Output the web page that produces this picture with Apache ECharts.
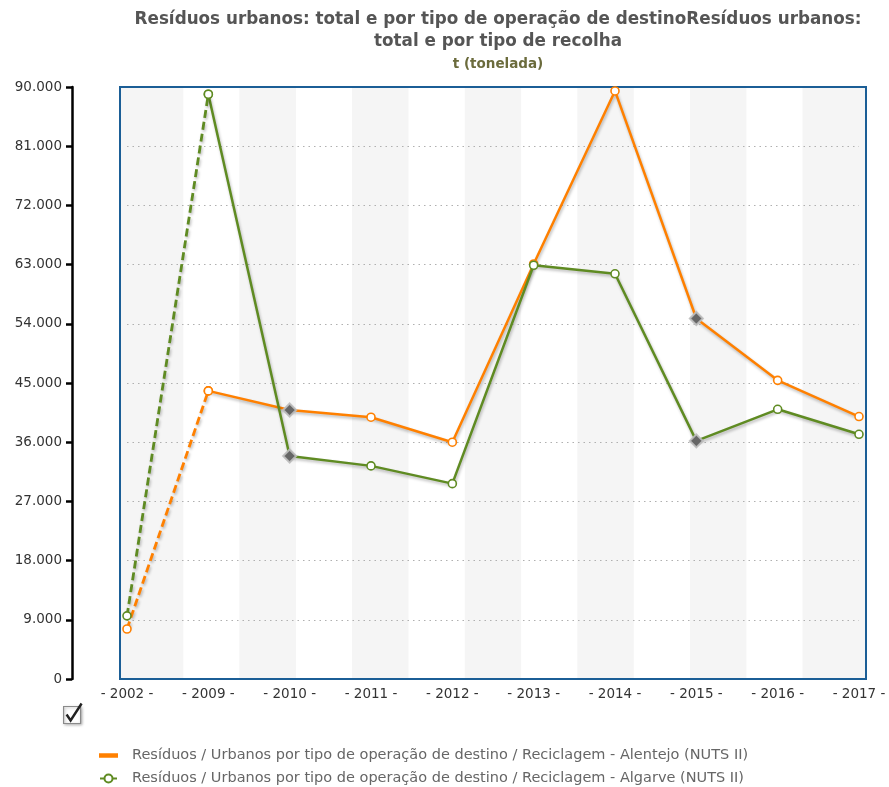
<!DOCTYPE html>
<html><head><meta charset="utf-8">
<script src="https://cdn.jsdelivr.net/npm/echarts@6/dist/echarts.min.js"></script>
<style>html,body{margin:0;padding:0;background:#fff}#c{width:889px;height:787px}</style>
</head><body><div id="c"></div>
<script>
const categories = ['2002','2009','2010','2011','2012','2013','2014','2015','2016','2017'];
const alentejo = [7600, 43800, 40900, 39800, 36000, 63100, 89400, 54800, 45400, 39900];
const algarve  = [9600, 88900, 33900, 32400, 29700, 62900, 61600, 36200, 41000, 37200];
const diamondIndexes = [2, 7];
const yMin = 0, yMax = 90000, yStep = 9000;
const nameAlentejo = 'Resíduos / Urbanos por tipo de operação de destino / Reciclagem - Alentejo (NUTS II)';
const nameAlgarve = 'Resíduos / Urbanos por tipo de operação de destino / Reciclagem - Algarve (NUTS II)';
const titleText = 'Resíduos urbanos: total e por tipo de operação de destinoResíduos urbanos:\ntotal e por tipo de recolha';
const subTitleText = 't (tonelada)';

const ORANGE = '#ff8000', GREEN = '#5f8b22';
const FONT = 'DejaVu Sans';

function fmt(v){ return String(v).replace(/\B(?=(\d{3})+(?!\d))/g, '.'); }
function pointItem(v, i){
  if (diamondIndexes.indexOf(i) >= 0) {
    return {value: v, symbol: 'diamond', symbolSize: 13,
      itemStyle: {color: '#666', borderColor: 'rgba(190,190,190,0.9)', borderWidth: 2}};
  }
  return v;
}
function solidData(arr){ return arr.map((v,i) => i === 0 ? '-' : pointItem(v,i)); }
function dashData(arr){ return arr.map((v,i) => i <= 1 ? v : '-'); }
const shadow = {shadowColor: 'rgba(0,0,0,0.28)', shadowBlur: 3, shadowOffsetX: 1, shadowOffsetY: 2};

function mkSeries(name, arr, color, dashed){
  return {
    type: 'line', name: name, xAxisIndex: 1, yAxisIndex: 1, z: 5,
    data: dashed ? dashData(arr) : solidData(arr),
    symbol: 'circle', symbolSize: 8,
    itemStyle: {color: '#fff', borderColor: color, borderWidth: 1.6},
    lineStyle: Object.assign({color: color, width: dashed ? 2.8 : 2.5, type: dashed ? [8,4] : 'solid'}, shadow),
    connectNulls: false, animation: false
  };
}
const legendBase = {
  orient: 'vertical', left: 99, padding: 0, itemGap: 10, itemWidth: 17, itemHeight: 10,
  textStyle: {fontFamily: FONT, fontSize: 14.5, color: '#666', padding: [0, 0, 0, 10]}
};

const chart = echarts.init(document.getElementById('c'));
chart.setOption({
  animation: false,
  title: {
    text: titleText, subtext: subTitleText,
    left: 493, top: 4, textAlign: 'center', itemGap: 4,
    textStyle: {fontFamily: FONT, fontSize: 16.8, fontWeight: 'bold', color: '#555', lineHeight: 22},
    subtextStyle: {fontFamily: FONT, fontSize: 13.5, fontWeight: 'bold', color: '#6b6b3c'}
  },
  grid: [
    {left: 120, right: 23, top: 87, bottom: 108, show: true, backgroundColor: '#f5f5f5', borderWidth: 0, z: 0},
    {left: 127, right: 30, top: 87, bottom: 108, show: false},
    {left: 120, right: 23, top: 87, bottom: 108, show: true, backgroundColor: 'transparent', borderColor: '#1b5e96', borderWidth: 2, z: 3}
  ],
  xAxis: [
    {gridIndex: 0, type: 'value', show: false},
    {gridIndex: 1, type: 'category', data: categories, boundaryGap: false,
      axisLine: {show: false}, axisTick: {show: false}, splitLine: {show: false},
      axisLabel: {formatter: '- {value} -', fontFamily: FONT, fontSize: 13.5, color: '#333', margin: 8}},
    {gridIndex: 1, type: 'value', min: 0, max: 13, interval: 1, z: 1,
      axisLine: {show: false}, axisTick: {show: false}, axisLabel: {show: false}, splitLine: {show: false},
      splitArea: {show: true, areaStyle: {color: ['#f5f5f5', '#ffffff']}}},
    {gridIndex: 2, type: 'value', show: false}
  ],
  yAxis: [
    {gridIndex: 0, type: 'value', show: false},
    {gridIndex: 1, type: 'value', min: yMin, max: yMax, interval: yStep, offset: 55, z: 2,
      axisLine: {show: true, onZero: false, lineStyle: {color: '#000', width: 2.5}},
      axisTick: {show: true, length: 6, lineStyle: {color: '#000', width: 2.5}},
      axisLabel: {formatter: fmt, fontFamily: FONT, fontSize: 13.5, color: '#333', margin: 10},
      splitLine: {show: true, showMinLine: false, showMaxLine: false, lineStyle: {color: '#b0b0b0', type: [1.5, 4], width: 1.2}}},
    {gridIndex: 2, type: 'value', show: false}
  ],
  legend: [
    Object.assign({top: 748, data: [{name: nameAlentejo, icon: 'path://M0,0H18V2.6H0Z', itemStyle: {color: ORANGE}}]}, legendBase),
    Object.assign({top: 771, data: [{name: nameAlgarve}]}, legendBase)
  ],
  series: [
    mkSeries(nameAlentejo, alentejo, ORANGE, false),
    mkSeries(nameAlgarve, algarve, GREEN, false),
    mkSeries(nameAlentejo, alentejo, ORANGE, true),
    mkSeries(nameAlgarve, algarve, GREEN, true)
  ],
  graphic: [{
    type: 'group', left: 63, top: 701, z: 10,
    children: [
      {type: 'rect', shape: {x: 0, y: 3, width: 17, height: 17},
        style: {fill: '#fff', stroke: '#8a8a8a', lineWidth: 1.2, shadowColor: 'rgba(0,0,0,0.3)', shadowBlur: 3, shadowOffsetX: 1, shadowOffsetY: 1}},
      {type: 'polyline', shape: {points: [[3, 11], [7, 17], [18, 0]]},
        style: {stroke: '#222', lineWidth: 2.4, fill: null}}
    ]
  }]
});
</script></body></html>
